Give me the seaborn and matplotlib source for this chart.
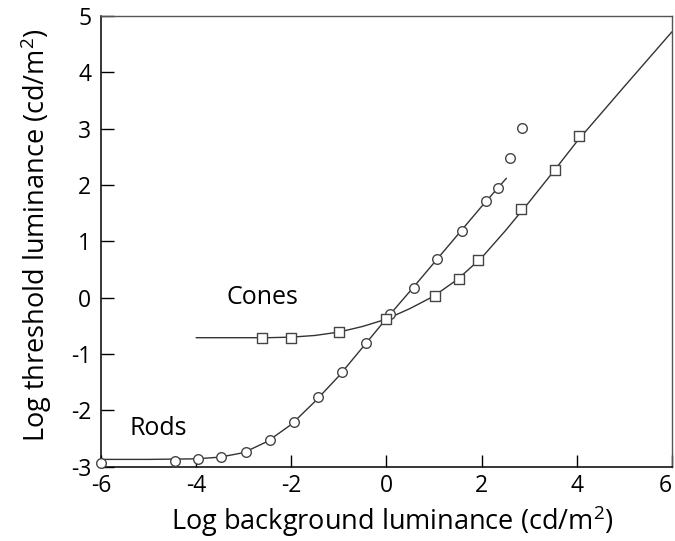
import matplotlib
matplotlib.use("Agg")
import matplotlib.pyplot as plt
import seaborn as sns
import pandas as pd

# ---- data ----
rod_x = [-6.0, -4.45, -3.96, -3.47, -2.95, -2.44, -1.94, -1.44, -0.93, -0.44,
         0.07, 0.57, 1.07, 1.58, 2.09, 2.34, 2.59, 2.84]
rod_y = [-2.94, -2.89, -2.87, -2.83, -2.74, -2.52, -2.20, -1.77, -1.32, -0.81,
         -0.29, 0.18, 0.68, 1.19, 1.71, 1.95, 2.48, 3.02]

cone_x = [-2.62, -2.0, -1.0, 0.0, 1.02, 1.52, 1.92, 2.83, 3.54, 4.05]
cone_y = [-0.71, -0.71, -0.60, -0.37, 0.03, 0.33, 0.67, 1.57, 2.27, 2.87]

# fitted curves
rod_fit_x = [-6.0, -5.0, -4.0, -3.5, -3.0, -2.5, -2.0, -1.5, -1.0, -0.5, 0.0,
             0.5, 1.0, 1.5, 2.0, 2.52]
rod_fit_y = [-2.87, -2.87, -2.86, -2.83, -2.75, -2.55, -2.25, -1.84, -1.39, -0.88,
             -0.37, 0.12, 0.62, 1.12, 1.62, 2.12]

cone_fit_x = [-4.0, -3.0, -2.5, -2.0, -1.5, -1.0, -0.5, 0.0, 0.5, 1.0, 1.5, 2.0,
              2.5, 3.0, 3.5, 4.0, 5.0, 6.0]
cone_fit_y = [-0.71, -0.71, -0.71, -0.70, -0.67, -0.61, -0.51, -0.38, -0.19, 0.03,
              0.33, 0.71, 1.19, 1.70, 2.23, 2.77, 3.75, 4.72]

x_ticks = [-6, -4, -2, 0, 2, 4, 6]
y_ticks = [-3, -2, -1, 0, 1, 2, 3, 4, 5]

sns.set_theme(style="ticks")
plt.rcParams["font.family"] = ["Open Sans", "DejaVu Sans"]
plt.rcParams["mathtext.default"] = "regular"

fig = plt.figure(figsize=(6.75, 5.41), dpi=100)
ax = fig.add_axes([0.1496, 0.1373, 0.8459, 0.8331])

line_col = "#333333"
sns.lineplot(x=rod_fit_x, y=rod_fit_y, ax=ax, color=line_col, lw=1.0, sort=False)
sns.lineplot(x=cone_fit_x, y=cone_fit_y, ax=ax, color=line_col, lw=1.0, sort=False)

sns.scatterplot(x=rod_x, y=rod_y, ax=ax, marker="o", s=48, facecolor="white",
                edgecolor="#444444", linewidth=1.0, zorder=3, clip_on=False)
sns.scatterplot(x=cone_x, y=cone_y, ax=ax, marker="s", s=42, facecolor="white",
                edgecolor="#444444", linewidth=1.0, zorder=3, clip_on=False)

ax.set_xlim(-6, 6)
ax.set_ylim(-3, 5)
ax.set_xticks(x_ticks)
ax.set_yticks(y_ticks)
ax.set_xticklabels([str(t) for t in x_ticks])
ax.set_yticklabels([str(t) for t in y_ticks])
ax.tick_params(direction="in", length=9, width=1, labelsize=16.5, colors="black")
ax.tick_params(axis="y", pad=7)
ax.tick_params(axis="x", pad=5)
ax.get_xticklabels()[-1].set_horizontalalignment("right")

for s in ["left", "bottom"]:
    ax.spines[s].set_color("black")
    ax.spines[s].set_linewidth(1.1)
for s in ["top", "right"]:
    ax.spines[s].set_color("#555555")
    ax.spines[s].set_linewidth(1.0)

ax.set_xlabel("Log background luminance (cd/m$^2$)", fontsize=19.5, color="black", labelpad=4)
ax.set_ylabel("Log threshold luminance (cd/m$^2$)", fontsize=19.5, color="black", labelpad=12)
ax.xaxis.label.set_x(0.511)
ax.yaxis.label.set_y(0.514)

ax.text(-2.6, 0.0, "Cones", fontsize=18, ha="center", va="center", color="black")
ax.text(-4.8, -2.32, "Rods", fontsize=18, ha="center", va="center", color="black")

fig.savefig("out.png", dpi=100)
